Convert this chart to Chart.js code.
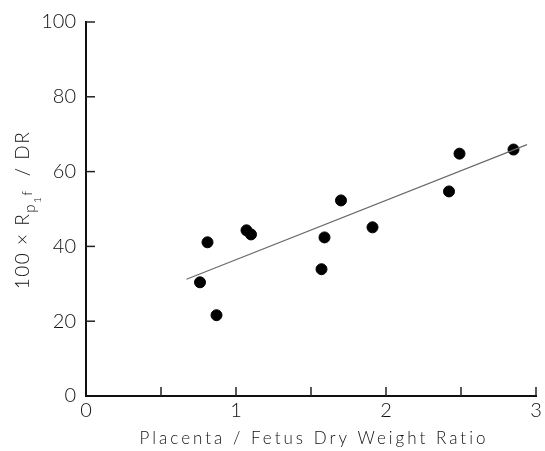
<!DOCTYPE html>
<html>
<head>
<meta charset="utf-8">
<script src="https://cdn.jsdelivr.net/npm/chart.js@4/dist/chart.umd.min.js"></script>
<style>
  html, body { margin: 0; padding: 0; background: #fff; }
  #wrap { width: 545px; height: 451px; }
</style>
</head>
<body>
<div id="wrap"><canvas id="grafico"></canvas></div>
<script>
// dados
const ratioX = [0.76, 0.81, 0.87, 1.07, 1.10, 1.57, 1.59, 1.70, 1.91, 2.42, 2.49, 2.85];
const valorY = [30.4, 41.1, 21.6, 44.3, 43.2, 33.9, 42.4, 52.3, 45.1, 54.7, 64.8, 65.9];
const retaX = [0.67, 2.94];
const retaY = [31.2, 67.2];

const xTickLabels = [0, 1, 2, 3];
const yTickLabels = [0, 20, 40, 60, 80, 100];

const tituloX = 'Placenta / Fetus Dry Weight Ratio';
const FONTE = 'Lato, "Liberation Sans", sans-serif';

// marcas internas dos eixos + títulos
const eixosPlugin = {
  id: 'eixos',
  afterDraw(chart) {
    const { ctx, chartArea: a, scales: { x, y } } = chart;
    ctx.save();
    ctx.strokeStyle = '#222';
    ctx.lineWidth = 1.5;
    for (let v = 0.5; v <= 3; v += 0.5) {
      const px = x.getPixelForValue(v);
      ctx.beginPath();
      ctx.moveTo(px, a.bottom);
      ctx.lineTo(px, a.bottom - 9);
      ctx.stroke();
    }
    for (let v = 20; v <= 100; v += 20) {
      const py = y.getPixelForValue(v);
      ctx.beginPath();
      ctx.moveTo(a.left, py);
      ctx.lineTo(a.left + 9, py);
      ctx.stroke();
    }

    ctx.fillStyle = '#111';
    ctx.textBaseline = 'alphabetic';

    // título do eixo x
    ctx.font = '300 17px ' + FONTE;
    ctx.letterSpacing = '3px';
    ctx.textAlign = 'center';
    ctx.fillText(tituloX, (a.left + a.right) / 2 + 3, 444);

    // título do eixo y, com subscritos
    const partes = [
      { t: '100 × R', size: 19, dy: 0 },
      { t: 'p', size: 15, dy: 6 },
      { t: '1', size: 10, dy: 12 },
      { t: 'f', size: 14, dy: 3 },
      { t: '  / DR', size: 19, dy: 0 },
    ];
    ctx.letterSpacing = '1.5px';
    ctx.textAlign = 'left';
    let total = 0;
    partes.forEach(p => {
      ctx.font = `300 ${p.size}px ${FONTE}`;
      p.w = ctx.measureText(p.t).width;
      total += p.w;
    });
    ctx.translate(29, (a.top + a.bottom) / 2 + 1);
    ctx.rotate(-Math.PI / 2);
    let cx = -total / 2;
    partes.forEach(p => {
      ctx.font = `300 ${p.size}px ${FONTE}`;
      ctx.fillText(p.t, cx, p.dy);
      cx += p.w;
    });
    ctx.restore();
  }
};

const pontos = ratioX.map((v, i) => ({ x: v, y: valorY[i] }));
const reta = retaX.map((v, i) => ({ x: v, y: retaY[i] }));

new Chart(document.getElementById('grafico'), {
  type: 'scatter',
  data: {
    datasets: [
      {
        type: 'line',
        data: reta,
        borderColor: '#6a6a6a',
        borderWidth: 1.2,
        pointRadius: 0,
        fill: false,
      },
      {
        data: pontos,
        backgroundColor: '#000',
        borderColor: '#000',
        pointRadius: 5.5,
        pointHoverRadius: 5.5,
      }
    ]
  },
  options: {
    responsive: true,
    maintainAspectRatio: false,
    animation: false,
    layout: { padding: { top: 21, right: 9, left: 0, bottom: 0 } },
    plugins: {
      legend: { display: false },
      tooltip: { enabled: false },
    },
    scales: {
      x: {
        type: 'linear',
        min: 0,
        max: 3,
        afterFit: s => { s.height = 55; },
        afterBuildTicks: s => { s.ticks = xTickLabels.map(v => ({ value: v })); },
        grid: { display: false, drawTicks: false },
        border: { display: true, color: '#111', width: 2 },
        ticks: {
          padding: 3,
          maxRotation: 0,
          autoSkip: false,
          color: '#111',
          font: { family: FONTE, size: 20, weight: '300' },
        },
      },
      y: {
        min: 0,
        max: 100,
        afterFit: s => { s.width = 86; },
        afterBuildTicks: s => { s.ticks = yTickLabels.map(v => ({ value: v })); },
        grid: { display: false, drawTicks: false },
        border: { display: true, color: '#111', width: 2 },
        ticks: {
          padding: 10,
          autoSkip: false,
          color: '#111',
          font: { family: FONTE, size: 20, weight: '300' },
        },
      }
    }
  },
  plugins: [eixosPlugin]
});
</script>
</body>
</html>
